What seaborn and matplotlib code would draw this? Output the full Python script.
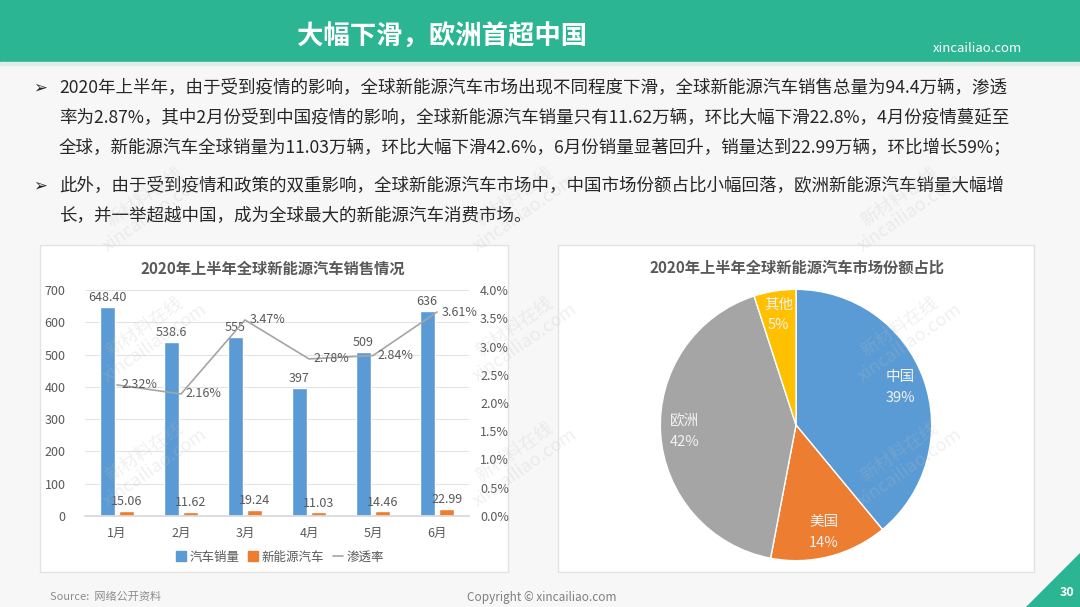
import pandas as pd
import matplotlib.pyplot as plt
import seaborn as sns
from matplotlib.patches import Rectangle, Polygon, Patch
from matplotlib.lines import Line2D
from matplotlib.ticker import FuncFormatter

# chart data
months = ['1月', '2月', '3月', '4月', '5月', '6月']
car_sales = [648.40, 538.6, 555, 397, 509, 636]
car_labels = ['648.40', '538.6', '555', '397', '509', '636']
nev_sales = [15.06, 11.62, 19.24, 11.03, 14.46, 22.99]
nev_labels = ['15.06', '11.62', '19.24', '11.03', '14.46', '22.99']
penetration = [2.32, 2.16, 3.47, 2.78, 2.84, 3.61]
series_names = ['汽车销量', '新能源汽车', '渗透率']

regions = ['中国', '美国', '欧洲', '其他']
shares = [39, 14, 42, 5]

bullet_lines = [
    '2020年上半年，由于受到疫情的影响，全球新能源汽车市场出现不同程度下滑，全球新能源汽车销售总量为94.4万辆，渗透',
    '率为2.87%，其中2月份受到中国疫情的影响，全球新能源汽车销量只有11.62万辆，环比大幅下滑22.8%，4月份疫情蔓延至',
    '全球，新能源汽车全球销量为11.03万辆，环比大幅下滑42.6%，6月份销量显著回升，销量达到22.99万辆，环比增长59%；',
    '此外，由于受到疫情和政策的双重影响，全球新能源汽车市场中，中国市场份额占比小幅回落，欧洲新能源汽车销量大幅增',
    '长，并一举超越中国，成为全球最大的新能源汽车消费市场。',
]

BLUE = '#5B9BD5'
ORANGE = '#ED7D31'
GRAY = '#A5A5A5'
YELLOW = '#FFC000'
GREEN = '#2BB593'
TXT = '#595959'

sns.set_theme(style='white')
plt.rcParams['font.family'] = ['Noto Sans CJK SC', 'DejaVu Sans']
plt.rcParams['axes.unicode_minus'] = False

W, H = 1080, 607
fig = plt.figure(figsize=(W / 100, H / 100), dpi=100)
fig.patch.set_facecolor('#F7F7F7')


def fx(x):
    return x / W


def fy(y):
    return 1 - y / H


# background layer in pixel coordinates
bg = fig.add_axes([0, 0, 1, 1], zorder=-5)
bg.set_xlim(0, W)
bg.set_ylim(H, 0)
bg.axis('off')
bg.add_patch(Rectangle((0, 0), W, 62, color=GREEN))
bg.add_patch(Rectangle((0, 62), W, 3, color='#DDEDE8'))
bg.add_patch(Rectangle((40, 245), 468, 327, facecolor='white', edgecolor='#E3E3E3', lw=1))
bg.add_patch(Rectangle((558, 245), 476, 327, facecolor='white', edgecolor='#E3E3E3', lw=1))
bg.add_patch(Polygon([(1026, 607), (1080, 607), (1080, 553)], color=GREEN))

bg.text(297, 37, '大幅下滑，欧洲首超中国', color='white', fontsize=19,
        fontweight='bold', va='center', ha='left')
bg.text(977, 49, 'xincailiao.com', color='white', fontsize=9.5, va='center', ha='center')
bg.text(1067, 592, '30', color='white', fontsize=9, fontweight='bold', va='center', ha='center')
bg.text(50, 597, 'Source:  网络公开资料', color='#8C8C8C', fontsize=8, style='italic',
        va='center', ha='left')
bg.text(542, 597, 'Copyright © xincailiao.com', color='#7F7F7F', fontsize=8.5,
        va='center', ha='center')

line_y = [88, 118, 148, 186, 216]
for i, (txt, y) in enumerate(zip(bullet_lines, line_y)):
    if i in (0, 3):
        bg.text(33, y, '➢', fontsize=12, color='#262626', va='center', ha='left',
                family=['DejaVu Sans'])
    bg.text(59, y, txt, fontsize=12.6, color='#262626', va='center', ha='left')

# ---- left: bar + line combo chart ----
ax = fig.add_axes([fx(85), fy(516), fx(384), 226 / H])
df = pd.DataFrame({
    'month': months * 2,
    'value': car_sales + nev_sales,
    'series': [series_names[0]] * len(months) + [series_names[1]] * len(months),
})
sns.barplot(data=df, x='month', y='value', hue='series', palette=[BLUE, ORANGE],
            width=0.62, gap=0.25, errorbar=None, legend=False, saturation=1, ax=ax)
ax.bar_label(ax.containers[0], labels=car_labels, padding=2, fontsize=9, color=TXT)
ax.bar_label(ax.containers[1], labels=nev_labels, padding=2, fontsize=9, color=TXT)
ax.set_ylim(0, 700)
ax.set_yticks(range(0, 701, 100))
ax.set_xlabel('')
ax.set_ylabel('')
ax.yaxis.grid(True, color='#E3E3E3', lw=0.8)
ax.set_axisbelow(True)
for s in ['top', 'left', 'right']:
    ax.spines[s].set_visible(False)
ax.spines['bottom'].set_color('#D9D9D9')
ax.tick_params(axis='both', length=0, labelsize=9, colors=TXT)
ax.tick_params(axis='y', pad=14)
ax.tick_params(axis='x', pad=8)
ax.set_facecolor('none')

ax2 = ax.twinx()
sns.pointplot(x=months, y=penetration, color=GRAY, marker='', linewidth=1.2,
              errorbar=None, ax=ax2)
for i, v in enumerate(penetration):
    ax2.annotate(f'{v:.2f}%', (i, v), xytext=(3, 0), textcoords='offset points',
                 ha='left', va='center', fontsize=9, color=TXT)
ax2.set_ylim(0, 4)
ax2.set_yticks([x * 0.5 for x in range(9)])
ax2.yaxis.set_major_formatter(FuncFormatter(lambda v, p: f'{v:.1f}%'))
ax2.set_xlim(-0.5, 5.5)
ax2.set_ylabel('')
for s in ['top', 'left', 'right', 'bottom']:
    ax2.spines[s].set_visible(False)
ax2.tick_params(axis='y', length=0, labelsize=9, colors=TXT, pad=8)

ax.set_title('2020年上半年全球新能源汽车销售情况', fontsize=11, fontweight='bold',
             color=TXT, pad=12, x=0.49)

handles = [Patch(color=BLUE), Patch(color=ORANGE), Line2D([], [], color=GRAY, lw=1.2)]
ax.legend(handles, series_names, loc='center', bbox_to_anchor=(fx(280), fy(557)),
          bbox_transform=fig.transFigure, ncol=3, frameon=False, fontsize=9,
          handlelength=0.8, handleheight=0.8, handletextpad=0.3, columnspacing=0.7,
          labelcolor=TXT)

# ---- right: pie chart ----
pax = fig.add_axes([fx(659), fy(562), fx(274), 274 / H])
pie_labels = [f'{r}\n{s}%' for r, s in zip(regions, shares)]
wedges, texts = pax.pie(shares, labels=pie_labels, colors=[BLUE, ORANGE, GRAY, YELLOW],
                        startangle=90, counterclock=False, labeldistance=0.82,
                        wedgeprops=dict(edgecolor='white', linewidth=1),
                        textprops=dict(color='#F2F2F2', fontsize=10.5, linespacing=1.6))
for t in texts:
    t.set_ha('center')
    t.set_va('center')
pax.set_xlim(-1.01, 1.01)
pax.set_ylim(-1.01, 1.01)
pax.set_aspect('equal')
fig.text(fx(797), fy(268), '2020年上半年全球新能源汽车市场份额占比', fontsize=11,
         fontweight='bold', color=TXT, ha='center', va='center')

# faint watermarks
for wx in (150, 520, 905):
    for wy in (205, 335, 460):
        fig.text(fx(wx), fy(wy), '新材料在线\nxincailiao.com', rotation=35, fontsize=13,
                 color='#BDBDBD', alpha=0.22, ha='center', va='center', zorder=10,
                 linespacing=1.1)

fig.savefig('out.png', dpi=100)
